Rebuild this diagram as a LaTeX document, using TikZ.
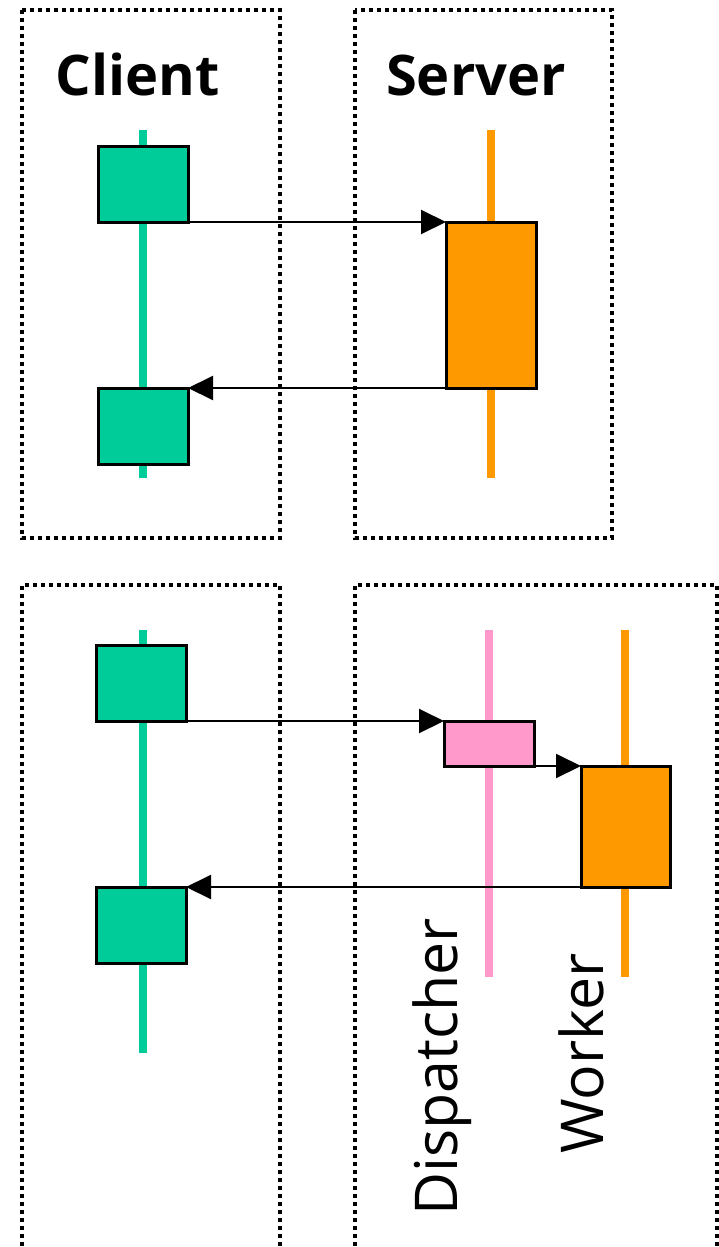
\documentclass[tikz,border=0pt]{standalone}
\usepackage{fontspec}
\setmainfont{Open Sans}
\usetikzlibrary{arrows.meta}
\definecolor{cgreen}{HTML}{00CC99}
\definecolor{corange}{HTML}{FF9900}
\definecolor{cpink}{HTML}{FF99CC}
\begin{document}
\begin{tikzpicture}[x=1pt,y=-1pt,
  frame/.style={line width=4.5pt, dash pattern=on 4pt off 4pt},
  life/.style={line width=7.5pt},
  act/.style={draw=black, line width=3pt, inner sep=0pt, outer sep=0pt, minimum width=90pt, anchor=north west},
  msg/.style={line width=2pt, -{Triangle[length=25pt,width=24pt]}},
  title/.style={font=\fontsize{56}{60}\selectfont\bfseries, anchor=base},
  lbl/.style={font=\fontsize{59}{62}\selectfont, rotate=90, anchor=base west}
]
\clip (0,0) rectangle (719,1247);
\useasboundingbox (0,0) rectangle (719,1247);
% frames
\draw[frame] (22,10) rectangle (280,538);
\draw[frame] (355,10) rectangle (612,538);
\draw[frame] (22,1270) -- (22,585) -- (280,585) -- (280,1270);
\draw[frame] (355,1270) -- (355,585) -- (717,585) -- (717,1270);
% titles
\node[title] (client) at (138,95) {Client};
\node[title] (server) at (476,95) {Server};
% top lifelines
\draw[life, cgreen] (143,130) -- (143,478);
\draw[life, corange] (491,130) -- (491,478);
% top activations
\node[act, fill=cgreen, minimum height=76pt] (c1) at (98,146) {};
\node[act, fill=cgreen, minimum height=76pt] (c2) at (98,388) {};
\node[act, fill=corange, minimum height=166pt] (s1) at (446,222) {};
\draw[msg] (c1.south east) -- (s1.north west);
\draw[msg] (s1.south west) -- (c2.north east);
% bottom lifelines
\draw[life, cgreen] (143,630) -- (143,1053);
\draw[life, cpink] (489,630) -- (489,977);
\draw[life, corange] (625,630) -- (625,977);
% bottom activations
\node[act, fill=cgreen, minimum height=76pt] (b1) at (96,645) {};
\node[act, fill=cgreen, minimum height=76pt] (b2) at (96,887) {};
\node[act, fill=cpink, minimum height=45pt] (d1) at (444,721) {};
\node[act, fill=corange, minimum height=121pt, minimum width=89pt] (w1) at (581,766) {};
\draw[msg] (b1.south east) -- (d1.north west);
\draw[msg] (d1.south east) -- (w1.north west);
\draw[msg] (w1.south west) -- (b2.north east);
% labels
\node[lbl] (disp) at (457,1219) {Dispatcher};
\node[lbl] (work) at (603,1157) {Worker};
\end{tikzpicture}
\end{document}
